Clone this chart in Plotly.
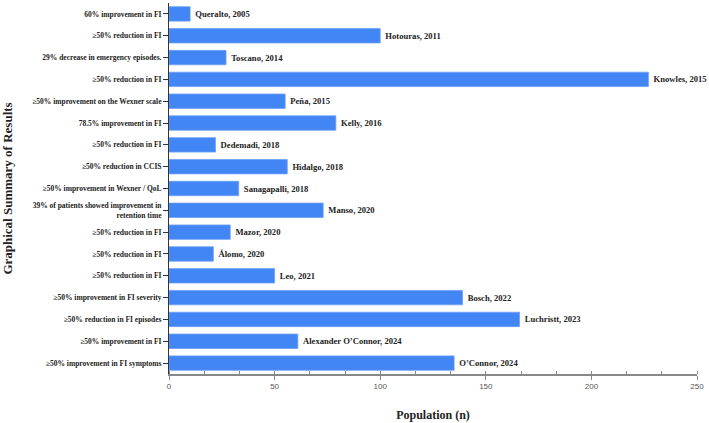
import plotly.graph_objects as go

results = [
    "60% improvement in FI",
    "≥50% reduction in FI",
    "29% decrease in emergency episodes.",
    "≥50% reduction in FI",
    "≥50% improvement on the Wexner scale",
    "78.5% improvement in FI",
    "≥50% reduction in FI",
    "≥50% reduction in CCIS",
    "≥50% improvement in Wexner / QoL",
    "39% of patients showed improvement in<br>retention time",
    "≥50% reduction in FI",
    "≥50% reduction in FI",
    "≥50% reduction in FI",
    "≥50% improvement in FI severity",
    "≥50% reduction in FI episodes",
    "≥50% improvement in FI",
    "≥50% improvement in FI symptoms",
]
studies = [
    "Queralto, 2005", "Hotouras, 2011", "Toscano, 2014", "Knowles, 2015",
    "Peña, 2015", "Kelly, 2016", "Dedemadi, 2018", "Hidalgo, 2018",
    "Sanagapalli, 2018", "Manso, 2020", "Mazor, 2020", "Álomo, 2020",
    "Leo, 2021", "Bosch, 2022", "Luchristt, 2023", "Alexander O’Connor, 2024",
    "O’Connor, 2024",
]
population = [10, 100, 27, 227, 55, 79, 22, 56, 33, 73, 29, 21, 50, 139, 166, 61, 135]

ids = list(range(len(results)))
serif = "Liberation Serif"

fig = go.Figure()
fig.add_trace(go.Bar(
    y=ids, x=population, orientation="h",
    marker=dict(color="#4285F4", line=dict(color="#6FA0F7", width=0.8)),
    width=0.66,
    text=["<b>\u2005" + s + "</b>" for s in studies],
    textposition="outside",
    textfont=dict(family=serif, size=8.6, color="#222222"),
    cliponaxis=False,
    hoverinfo="skip",
))

fig.update_layout(
    width=709, height=423,
    margin=dict(l=169, r=12, t=3, b=45),
    plot_bgcolor="white", paper_bgcolor="white",
    showlegend=False,
    font=dict(family=serif, color="#222222"),
)
fig.update_xaxes(
    range=[0, 250], tickvals=[0, 50, 100, 150, 200, 250],
    showgrid=False, zeroline=False,
    showline=True, linecolor="#888888", linewidth=1.5,
    ticks="outside", ticklen=4, tickcolor="#888888",
    minor=dict(dtick=50/3, ticks="inside", ticklen=3, tickcolor="#888888", showgrid=False),
    tickfont=dict(family="Liberation Sans", size=8, color="#555555"),
    title=dict(text="<b>Population (n)</b>", font=dict(family=serif, size=12, color="#222222"), standoff=20),
)
fig.update_yaxes(
    tickmode="array", tickvals=ids, ticktext=["<b>" + r + "</b>" for r in results],
    range=[len(results) - 0.5, -0.5],
    showgrid=False, zeroline=False,
    showline=True, linecolor="#333333", linewidth=1,
    ticks="outside", ticklen=5, tickcolor="#333333",
    tickfont=dict(family=serif, size=7.5, color="#222222"),
    title=dict(text="<b>Graphical Summary of Results</b>", font=dict(family=serif, size=13, color="#222222"), standoff=18),
)

fig.write_html("out.html")
